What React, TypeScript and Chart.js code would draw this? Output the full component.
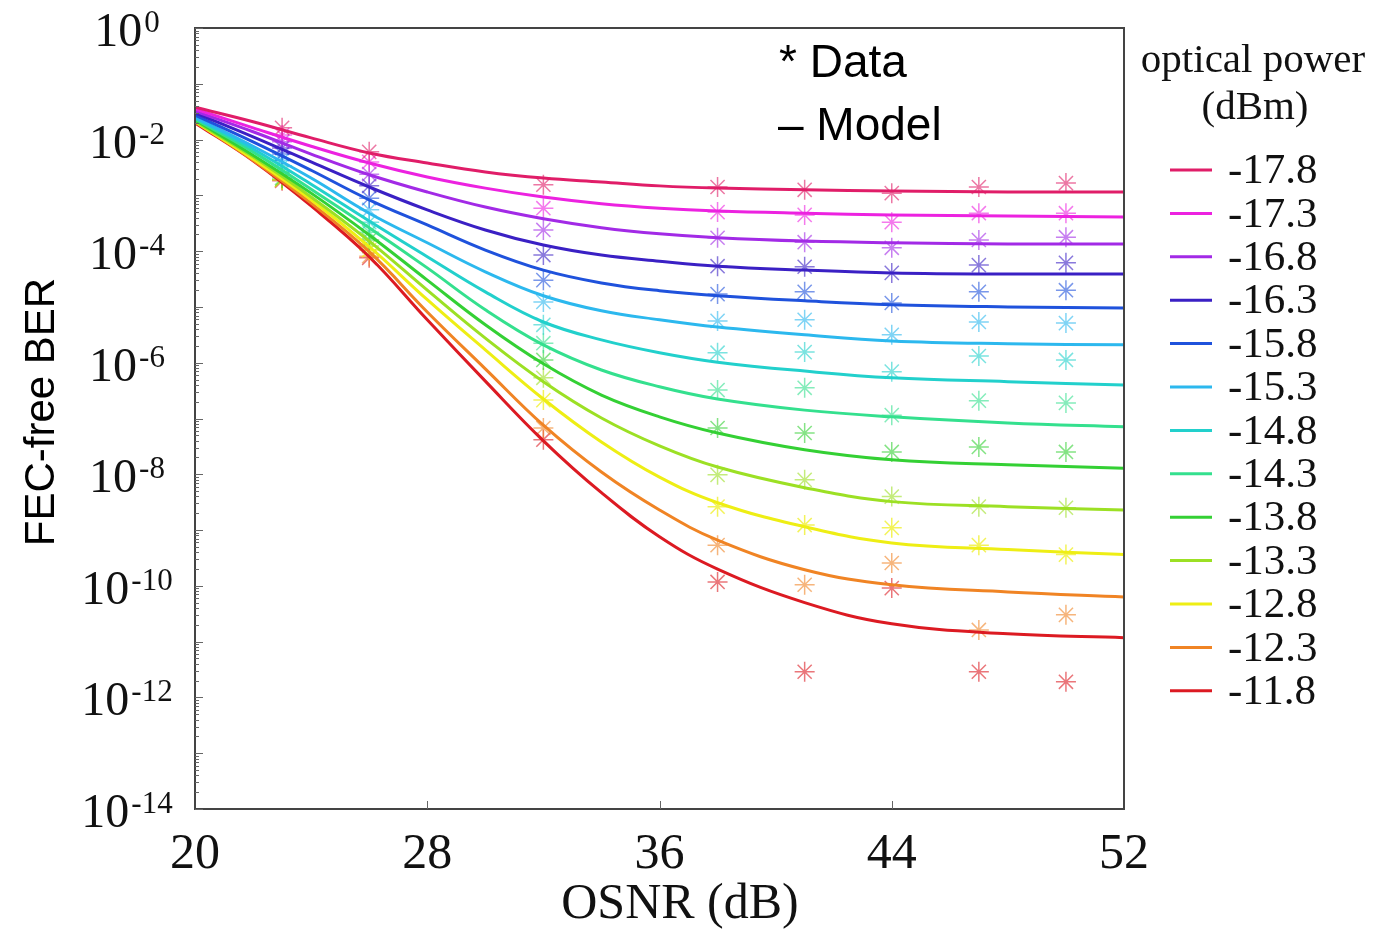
import React, { useEffect, useRef } from 'react';
import { Chart, registerables } from 'chart.js';

Chart.register(...registerables);

// optical power (dBm) of each series
const powers = ['-17.8', '-17.3', '-16.8', '-16.3', '-15.8', '-15.3', '-14.8', '-14.3', '-13.8', '-13.3', '-12.8', '-12.3', '-11.8'];
const lineColors = ['#e01d68', '#ec22e0', '#a22ae6', '#3a20c4', '#1f52dc', '#2cb8ee', '#22d0cc', '#34e08e', '#34d034', '#9ce024', '#eeee14', '#f08424', '#dc1a22'];
const markerColors = ['rgba(224,29,104,0.6)', 'rgba(236,34,224,0.6)', 'rgba(162,42,230,0.6)', 'rgba(58,32,196,0.6)', 'rgba(31,82,220,0.6)', 'rgba(44,184,238,0.6)', 'rgba(34,208,204,0.6)', 'rgba(52,224,142,0.6)', 'rgba(52,208,52,0.6)', 'rgba(156,224,36,0.6)', 'rgba(238,238,20,0.7)', 'rgba(240,132,36,0.6)', 'rgba(220,26,34,0.6)'];

// Model curves: OSNR (dB) and log10(BER)
const modelOsnr = [20, 22, 24, 26, 28, 30, 32, 34, 36, 38, 41, 44, 48, 52];
const modelM178 = [-1.42, -1.68, -1.97, -2.24, -2.42, -2.58, -2.69, -2.76, -2.83, -2.87, -2.90, -2.92, -2.94, -2.94];
const modelM173 = [-1.45, -1.79, -2.12, -2.42, -2.67, -2.87, -3.03, -3.15, -3.23, -3.28, -3.32, -3.35, -3.37, -3.39];
const modelM168 = [-1.49, -1.86, -2.26, -2.63, -2.94, -3.21, -3.42, -3.58, -3.69, -3.76, -3.82, -3.85, -3.87, -3.87];
const modelM163 = [-1.52, -1.95, -2.40, -2.85, -3.26, -3.62, -3.89, -4.07, -4.18, -4.27, -4.34, -4.39, -4.41, -4.41];
const modelM158 = [-1.56, -2.04, -2.55, -3.08, -3.53, -3.98, -4.34, -4.57, -4.71, -4.80, -4.89, -4.96, -5.00, -5.02];
const modelM153 = [-1.60, -2.12, -2.69, -3.32, -3.85, -4.37, -4.80, -5.07, -5.23, -5.36, -5.50, -5.61, -5.66, -5.68];
const modelM148 = [-1.61, -2.17, -2.80, -3.46, -4.10, -4.73, -5.27, -5.59, -5.82, -5.99, -6.15, -6.27, -6.34, -6.40];
const modelM143 = [-1.63, -2.22, -2.89, -3.58, -4.30, -5.05, -5.68, -6.13, -6.43, -6.65, -6.85, -6.97, -7.08, -7.15];
const modelM138 = [-1.65, -2.28, -2.96, -3.71, -4.52, -5.32, -6.02, -6.58, -6.97, -7.26, -7.56, -7.74, -7.83, -7.89];
const modelM133 = [-1.67, -2.31, -3.03, -3.82, -4.70, -5.56, -6.34, -6.99, -7.49, -7.87, -8.24, -8.49, -8.58, -8.64];
const modelM128 = [-1.68, -2.35, -3.08, -3.92, -4.87, -5.77, -6.65, -7.42, -8.05, -8.51, -8.94, -9.23, -9.35, -9.44];
const modelM123 = [-1.68, -2.37, -3.14, -4.01, -5.09, -6.11, -7.12, -7.96, -8.64, -9.18, -9.71, -9.98, -10.11, -10.20];
const modelM118 = [-1.70, -2.38, -3.19, -4.10, -5.23, -6.33, -7.40, -8.33, -9.12, -9.70, -10.30, -10.68, -10.86, -10.93];

// Measured data: OSNR (dB) and log10(BER)
const dataOsnr = [23, 26, 32, 38, 41, 44, 47, 50];
const dataM178 = [-1.79, -2.22, -2.81, -2.85, -2.90, -2.96, -2.85, -2.78];
const dataM173 = [-1.92, -2.40, -3.23, -3.30, -3.35, -3.48, -3.32, -3.32];
const dataM168 = [-2.04, -2.62, -3.62, -3.76, -3.84, -3.94, -3.80, -3.75];
const dataM163 = [-2.15, -2.83, -4.07, -4.27, -4.28, -4.39, -4.25, -4.21];
const dataM158 = [-2.26, -3.05, -4.52, -4.77, -4.73, -4.93, -4.73, -4.70];
const dataM153 = [-2.37, -3.26, -4.91, -5.25, -5.23, -5.50, -5.27, -5.29];
const dataM148 = [-2.47, -3.48, -5.32, -5.82, -5.81, -6.16, -5.88, -5.95];
const dataM143 = [-2.58, -3.66, -5.65, -6.49, -6.45, -6.94, -6.68, -6.72];
const dataM138 = [-2.69, -3.80, -5.95, -7.17, -7.26, -7.60, -7.51, -7.60];
const dataM133 = [-2.72, -3.91, -6.27, -8.01, -8.10, -8.40, -8.58, -8.60];
const dataM128 = [-2.72, -3.98, -6.67, -8.58, -8.91, -8.96, -9.27, -9.44];
const dataM123 = [-2.72, -4.09, -7.17, -9.27, -9.98, -9.59, -10.79, -10.52];
const dataM118 = [-2.74, -4.12, -7.38, -9.93, -11.54, -10.04, -11.54, -11.72];

const modelCurves = [modelM178, modelM173, modelM168, modelM163, modelM158, modelM153, modelM148, modelM143, modelM138, modelM133, modelM128, modelM123, modelM118];
const dataSeries = [dataM178, dataM173, dataM168, dataM163, dataM158, dataM153, dataM148, dataM143, dataM138, dataM133, dataM128, dataM123, dataM118];

const xTicks = [20, 28, 36, 44, 52];
const yExponents = [0, -2, -4, -6, -8, -10, -12, -14];

const SERIF = '"Liberation Serif", "Times New Roman", serif';
const SANS = '"Liberation Sans", Arial, sans-serif';

const overlayPlugin = {
  id: 'overlay',
  afterDraw(chart: any) {
    const { ctx, chartArea: a, scales } = chart;
    const x = scales.x;
    const y = scales.y;
    ctx.save();

    // frame
    ctx.strokeStyle = '#444';
    ctx.lineWidth = 2;
    ctx.strokeRect(a.left, a.top, a.right - a.left, a.bottom - a.top);

    // y minor / major ticks (inside)
    ctx.lineWidth = 1;
    ctx.strokeStyle = '#666';
    for (let k = 0; k >= -14; k--) {
      for (let m = 1; m <= 9; m++) {
        const v = m * Math.pow(10, k);
        if (v > 1.0000001 || v < 1e-14) continue;
        const py = Math.round(y.getPixelForValue(v)) + 0.5;
        const len = m === 1 ? 8 : 4;
        ctx.beginPath();
        ctx.moveTo(a.left, py);
        ctx.lineTo(a.left + len, py);
        ctx.stroke();
      }
    }
    // x ticks (inside)
    for (const t of xTicks) {
      if (t === xTicks[0] || t === xTicks[xTicks.length - 1]) continue;
      const px = Math.round(x.getPixelForValue(t)) + 0.5;
      ctx.beginPath();
      ctx.moveTo(px, a.bottom);
      ctx.lineTo(px, a.bottom - 8);
      ctx.stroke();
    }

    // y tick labels 10^k
    ctx.fillStyle = '#111';
    ctx.textBaseline = 'alphabetic';
    ctx.textAlign = 'left';
    for (const e of yExponents) {
      const py = y.getPixelForValue(Math.pow(10, e));
      ctx.font = `48px ${SERIF}`;
      const base = '10';
      const wb = ctx.measureText(base).width;
      ctx.font = `31px ${SERIF}`;
      const exp = String(e);
      const we = ctx.measureText(exp).width;
      const total = wb + 2 + we;
      const left = 127 - total / 2;
      ctx.font = `48px ${SERIF}`;
      ctx.fillText(base, left, py + 18);
      ctx.font = `31px ${SERIF}`;
      ctx.fillText(exp, left + wb + 2, py + 4);
    }

    // y axis title
    ctx.save();
    ctx.translate(42, 412);
    ctx.rotate(-Math.PI / 2);
    ctx.textAlign = 'center';
    ctx.textBaseline = 'middle';
    ctx.font = `42px ${SANS}`;
    ctx.fillStyle = '#000';
    ctx.fillText('FEC-free BER', 0, 0);
    ctx.restore();

    // x axis title
    ctx.textAlign = 'center';
    ctx.textBaseline = 'alphabetic';
    ctx.font = `50px ${SERIF}`;
    ctx.fillStyle = '#111';
    ctx.fillText('OSNR (dB)', 680, 918);

    // Data / Model note
    ctx.textAlign = 'left';
    ctx.font = `46px ${SANS}`;
    ctx.fillStyle = '#000';
    ctx.fillText('* Data', 779, 77);
    ctx.fillText('\u2013 Model', 778, 140);

    // legend
    ctx.font = `41px ${SERIF}`;
    ctx.fillStyle = '#111';
    ctx.textAlign = 'center';
    ctx.fillText('optical power', 1253, 72);
    ctx.fillText('(dBm)', 1255, 119);
    ctx.font = `43px ${SERIF}`;
    ctx.textAlign = 'left';
    ctx.textBaseline = 'middle';
    const ds = chart.data.datasets;
    let row = 0;
    for (let i = 0; i < ds.length; i++) {
      if (ds[i].kind !== 'model') continue;
      const cy = 170 + row * 43.4;
      ctx.strokeStyle = ds[i].borderColor;
      ctx.lineWidth = 3;
      ctx.beginPath();
      ctx.moveTo(1170, cy);
      ctx.lineTo(1212, cy);
      ctx.stroke();
      ctx.fillStyle = '#111';
      ctx.fillText(ds[i].label, 1228, cy + 2);
      row++;
    }
    ctx.restore();
  },
};

export default function App() {
  const canvasRef = useRef<HTMLCanvasElement | null>(null);

  useEffect(() => {
    if (!canvasRef.current) return;
    const datasets: any[] = [];
    dataSeries.forEach((vals, i) => {
      datasets.push({
        kind: 'data',
        label: powers[i] + ' data',
        data: dataOsnr.map((o, j) => ({ x: o, y: Math.pow(10, vals[j]) })),
        showLine: false,
        pointStyle: 'star',
        pointRadius: 10,
        pointBorderWidth: 1.5,
        borderColor: markerColors[i],
        backgroundColor: markerColors[i],
        order: 2,
      });
    });
    modelCurves.forEach((vals, i) => {
      datasets.push({
        kind: 'model',
        label: powers[i],
        data: modelOsnr.map((o, j) => ({ x: o, y: Math.pow(10, vals[j]) })),
        showLine: true,
        borderColor: lineColors[i],
        backgroundColor: lineColors[i],
        borderWidth: 3,
        pointRadius: 0,
        tension: 0.4,
        order: 1,
      });
    });

    const chart = new Chart(canvasRef.current, {
      type: 'scatter',
      data: { datasets },
      options: {
        animation: false,
        responsive: true,
        maintainAspectRatio: false,
        layout: { padding: { top: 28, right: 253, left: 0, bottom: 0 } },
        plugins: { legend: { display: false }, tooltip: { enabled: false } },
        scales: {
          x: {
            type: 'linear',
            min: 20,
            max: 52,
            ticks: {
              stepSize: 8,
              color: '#111',
              font: { family: SERIF, size: 50 },
              padding: 8,
              maxRotation: 0,
            },
            grid: { display: false },
            border: { display: false },
            afterFit: (s: any) => {
              s.height = 123;
              s.paddingLeft = 0;
              s.paddingRight = 0;
            },
          },
          y: {
            type: 'logarithmic',
            min: 1e-14,
            max: 1,
            ticks: { display: false },
            grid: { display: false },
            border: { display: false },
            afterFit: (s: any) => {
              s.width = 195;
            },
          },
        },
      } as any,
      plugins: [overlayPlugin],
    });
    return () => chart.destroy();
  }, []);

  return (
    <div style={{ position: 'fixed', left: 0, top: 0, width: 1377, height: 932, background: '#fff' }}>
      <canvas ref={canvasRef} />
    </div>
  );
}
